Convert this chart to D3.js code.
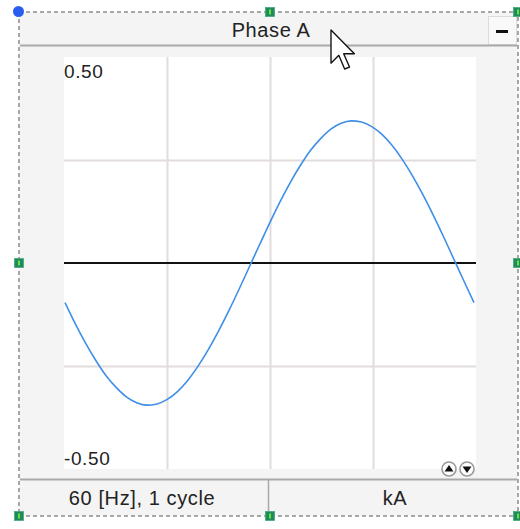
<!DOCTYPE html>
<html><head><meta charset="utf-8">
<script src="https://cdn.jsdelivr.net/npm/d3@7"></script>
<style>
html,body{margin:0;padding:0;background:#fff;}
svg{display:block;font-family:"Liberation Sans",Arial,sans-serif;}
</style></head>
<body>
<svg id="c" width="520" height="529"></svg>
<script>
// ---- data ----
const title = "Phase A";
const footerLeft = "60 [Hz], 1 cycle";
const footerRight = "kA";
const yTickLabels = ["0.50", "-0.50"];
const yDomain = [-0.5, 0.5];
const gridValues = [-0.25, 0.25];
const sampleIndex = d3.range(41); // 41 samples over one cycle
const current = [-0.096,-0.147,-0.194,-0.236,-0.273,-0.302,-0.325,-0.339,-0.345,-0.342,
  -0.331,-0.312,-0.285,-0.251,-0.211,-0.166,-0.117,-0.065,-0.011,0.043,
  0.096,0.147,0.194,0.236,0.273,0.302,0.325,0.339,0.345,0.342,
  0.331,0.312,0.285,0.251,0.211,0.166,0.117,0.065,0.011,-0.043,-0.096];
const xGridFractions = [0.25, 0.5, 0.75];

const svg = d3.select("#c");
const P = {l:64, r:476, t:57, b:469};

// panel background
svg.append("rect").attr("x",19).attr("y",12).attr("width",499).attr("height",504).attr("fill","#f4f4f4");
// title bar
svg.append("text").attr("x",271).attr("y",37).attr("text-anchor","middle")
  .attr("font-size",20).attr("letter-spacing",0.6).attr("fill","#222").text(title);
// minus button
svg.append("rect").attr("x",488.5).attr("y",16.5).attr("width",28).attr("height",28)
  .attr("fill","#f9f9f9").attr("stroke","#dcdcdc");
svg.append("rect").attr("x",496).attr("y",30).attr("width",12).attr("height",3).attr("fill","#111");
svg.append("line").attr("x1",20).attr("x2",517).attr("y1",45.5).attr("y2",45.5)
  .attr("stroke","#a9a9a9").attr("stroke-width",2);

// plot area
svg.append("rect").attr("x",P.l).attr("y",P.t).attr("width",P.r-P.l).attr("height",P.b-P.t).attr("fill","#fff");

const x = d3.scaleLinear().domain([0, sampleIndex.length-1]).range([P.l+1, P.r-2]);
const xg = d3.scaleLinear().domain([0,1]).range([P.l, P.r]);
const y = d3.scaleLinear().domain(yDomain).range([P.b, P.t]);

// grid
svg.append("g").selectAll("line").data(xGridFractions).join("line")
  .attr("x1",d=>Math.round(xg(d))+0.5).attr("x2",d=>Math.round(xg(d))+0.5)
  .attr("y1",P.t).attr("y2",P.b).attr("stroke","#e2dcdc").attr("stroke-width",2);
svg.append("g").selectAll("line").data(gridValues).join("line")
  .attr("x1",P.l).attr("x2",P.r)
  .attr("y1",d=>Math.round(y(d))+0.5).attr("y2",d=>Math.round(y(d))+0.5)
  .attr("stroke","#e2dcdc").attr("stroke-width",2);
// zero line
svg.append("line").attr("x1",P.l).attr("x2",P.r).attr("y1",y(0)).attr("y2",y(0))
  .attr("stroke","#111").attr("stroke-width",2);

// y labels
svg.append("text").attr("x",P.l).attr("y",P.t+21).attr("font-size",19).attr("letter-spacing",0.6).attr("fill","#222").text(yTickLabels[0]);
svg.append("text").attr("x",P.l).attr("y",P.b-4).attr("font-size",19).attr("letter-spacing",0.6).attr("fill","#222").text(yTickLabels[1]);

// curve
const line = d3.line().x((d,i)=>x(sampleIndex[i])).y(d=>y(d)).curve(d3.curveMonotoneX);
svg.append("path").datum(current).attr("d",line).attr("fill","none")
  .attr("stroke","#3f8fe8").attr("stroke-width",1.6);

// up/down buttons
[[449,"up"],[467,"down"]].forEach(([cx,dir])=>{
  svg.append("circle").attr("cx",cx).attr("cy",469).attr("r",7).attr("fill","#fff")
    .attr("stroke","#999").attr("stroke-width",1.6);
  const p = dir==="up" ? `M${cx-4.5},${471.5} L${cx+4.5},${471.5} L${cx},${465} Z` : `M${cx-4.5},${466.5} L${cx+4.5},${466.5} L${cx},${473} Z`;
  svg.append("path").attr("d",p).attr("fill","#111");
});

// footer
svg.append("line").attr("x1",20).attr("x2",517).attr("y1",479.5).attr("y2",479.5)
  .attr("stroke","#a9a9a9").attr("stroke-width",2);
svg.append("line").attr("x1",268.5).attr("x2",268.5).attr("y1",480).attr("y2",516)
  .attr("stroke","#a9a9a9").attr("stroke-width",1.5);
svg.append("text").attr("x",142).attr("y",505).attr("text-anchor","middle")
  .attr("font-size",20).attr("letter-spacing",0.6).attr("fill","#222").text(footerLeft);
svg.append("text").attr("x",395).attr("y",505).attr("text-anchor","middle")
  .attr("font-size",20).attr("letter-spacing",0.6).attr("fill","#222").text(footerRight);

// dashed selection border
svg.append("rect").attr("x",19).attr("y",12).attr("width",499).attr("height",504)
  .attr("fill","none").attr("stroke","#8c8c8c").attr("stroke-width",1.5).attr("stroke-dasharray","4,3");

// handles
const handles = [[270,12],[518,12],[19,263],[518,263],[19,516],[270,516],[518,516]];
svg.append("g").selectAll("rect").data(handles).join("rect")
  .attr("x",d=>d[0]-4.5).attr("y",d=>d[1]-4.5).attr("width",9).attr("height",9)
  .attr("fill","#1f8a5a").attr("stroke","#4aa77a").attr("stroke-width",0.8);
svg.append("g").selectAll("rect").data(handles).join("rect")
  .attr("x",d=>d[0]-1).attr("y",d=>d[1]-2.5).attr("width",2).attr("height",5).attr("fill","#66e04a");
svg.append("circle").attr("cx",18.5).attr("cy",11.5).attr("r",5.5).attr("fill","#2a5cf0");

// mouse cursor
const cur = "M0,0 L0,17 L4,13 L7,20 L9.5,19 L6.5,12.2 L12,12.2 Z";
svg.append("path").attr("d",cur).attr("transform","translate(331,30) scale(1.95)")
  .attr("fill","#fff").attr("stroke","#111").attr("stroke-width",0.7).attr("stroke-linejoin","round");
</script>
</body></html>
